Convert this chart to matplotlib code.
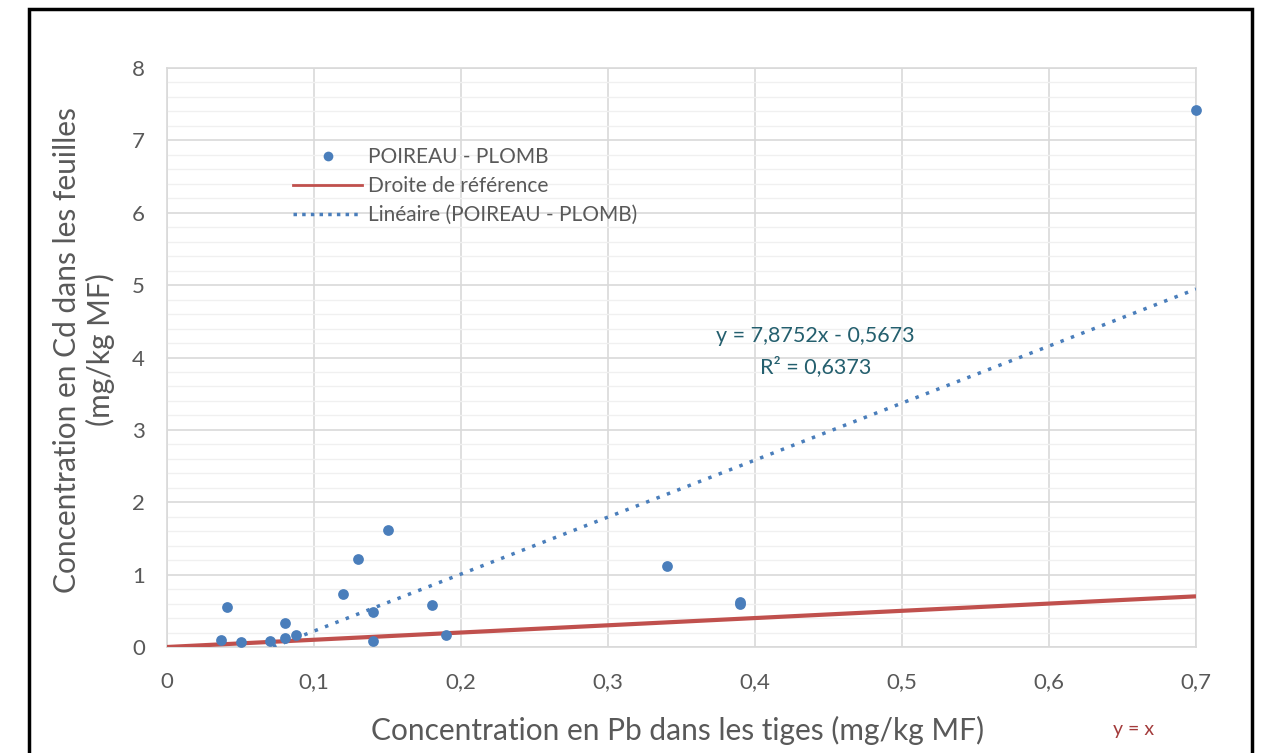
import matplotlib
matplotlib.use("Agg")
import matplotlib.pyplot as plt
from matplotlib.patches import Rectangle
from matplotlib.lines import Line2D
import numpy as np

# Data
pb_tiges = [0.037, 0.041, 0.05, 0.07, 0.08, 0.08, 0.088, 0.12, 0.13, 0.15, 0.14, 0.14, 0.18, 0.19, 0.34, 0.39, 0.39, 0.70]
cd_feuilles = [0.10, 0.55, 0.07, 0.08, 0.33, 0.12, 0.17, 0.73, 1.22, 1.62, 0.48, 0.08, 0.58, 0.17, 1.12, 0.60, 0.62, 7.42]
slope = 7.8752
intercept = -0.5673
r2_text = "R² = 0,6373"
eq_text = "y = 7,8752x - 0,5673"
ref_x = [0, 0.7]
x_ticks = [0, 0.1, 0.2, 0.3, 0.4, 0.5, 0.6, 0.7]
x_ticklabels = ["0", "0,1", "0,2", "0,3", "0,4", "0,5", "0,6", "0,7"]
y_ticks = [0, 1, 2, 3, 4, 5, 6, 7, 8]
y_ticklabels = ["0", "1", "2", "3", "4", "5", "6", "7", "8"]

FONT = "Lato"
plt.rcParams['font.family'] = [FONT, 'DejaVu Sans']

fig = plt.figure(figsize=(12.68, 7.53), dpi=100)
W, H = 1268, 753
ax = fig.add_axes([167 / W, 1 - 647 / H, (1196 - 167) / W, (647 - 68) / H])

blue = "#4A7EBB"
red = "#C0504D"
gray = "#595959"

ax.set_xlim(0, 0.7)
ax.set_ylim(0, 8)
ax.set_xticks(x_ticks)
ax.set_yticks(y_ticks)
ax.set_yticks(np.arange(0, 8.01, 0.2), minor=True)
ax.grid(which='major', color='#D9D9D9', linewidth=1.2)
ax.grid(which='minor', axis='y', color='#F0F0F0', linewidth=1.0)
ax.set_axisbelow(True)
for s in ax.spines.values():
    s.set_color('#D9D9D9')
    s.set_linewidth(1.2)
ax.tick_params(which='both', length=0, colors=gray, labelsize=16)
ax.tick_params(axis='x', pad=18)
ax.tick_params(axis='y', pad=16)
ax.set_xticklabels(x_ticklabels)
ax.set_yticklabels(y_ticklabels)

# reference line y = x
ax.plot(ref_x, ref_x, color=red, linewidth=3, solid_capstyle='butt', zorder=3)

# trendline (Excel linear trendline over the data range)
tx = np.array([min(pb_tiges), max(pb_tiges)])
ax.plot(tx, slope * tx + intercept, color=blue, linewidth=2.5, linestyle=(0, (1, 2.2)), zorder=3)

# scatter
ax.scatter(pb_tiges, cd_feuilles, s=60, color=blue, zorder=4, linewidths=0, clip_on=False)

# equation
ax.text(0.441, 4.3, eq_text, ha='center', va='center', fontsize=15.5, color="#245F6E")
ax.text(0.441, 3.87, r2_text, ha='center', va='center', fontsize=15.5, color="#245F6E")

# legend
handles = [
    Line2D([], [], linestyle='none', marker='o', markersize=7, color=blue, markeredgewidth=0),
    Line2D([], [], color=red, linewidth=2),
    Line2D([], [], color=blue, linewidth=2.5, linestyle=(0, (1, 1.5))),
]
labels = ["POIREAU - PLOMB", "Droite de référence", "Linéaire (POIREAU - PLOMB)"]
leg = ax.legend(handles, labels, loc='upper left', bbox_to_anchor=((285 - 167) / 1029, (647 - 139) / 579),
                frameon=False, fontsize=15, labelcolor=gray, handlelength=3.3, handletextpad=0.3,
                labelspacing=0.42, borderaxespad=0)

# axis labels
fig.text(678 / W, 1 - 730 / H, "Concentration en Pb dans les tiges (mg/kg MF)",
         ha='center', va='center', fontsize=21.5, color=gray)
fig.text(84 / W, 1 - 350 / H, "Concentration en Cd dans les feuilles\n(mg/kg MF)",
         ha='center', va='center', rotation=90, fontsize=21.5, color=gray, linespacing=1.2)
fig.text(1134 / W, 1 - 730 / H, "y = x", ha='center', va='center', fontsize=14, color="#A33B3B")

# outer frame
fig.patches.append(Rectangle((29 / W, -0.05), (1252 - 29) / W, 1 - 9 / H + 0.05,
                             transform=fig.transFigure, fill=False, edgecolor='black', linewidth=2.5))

fig.savefig("out.png", dpi=100)
